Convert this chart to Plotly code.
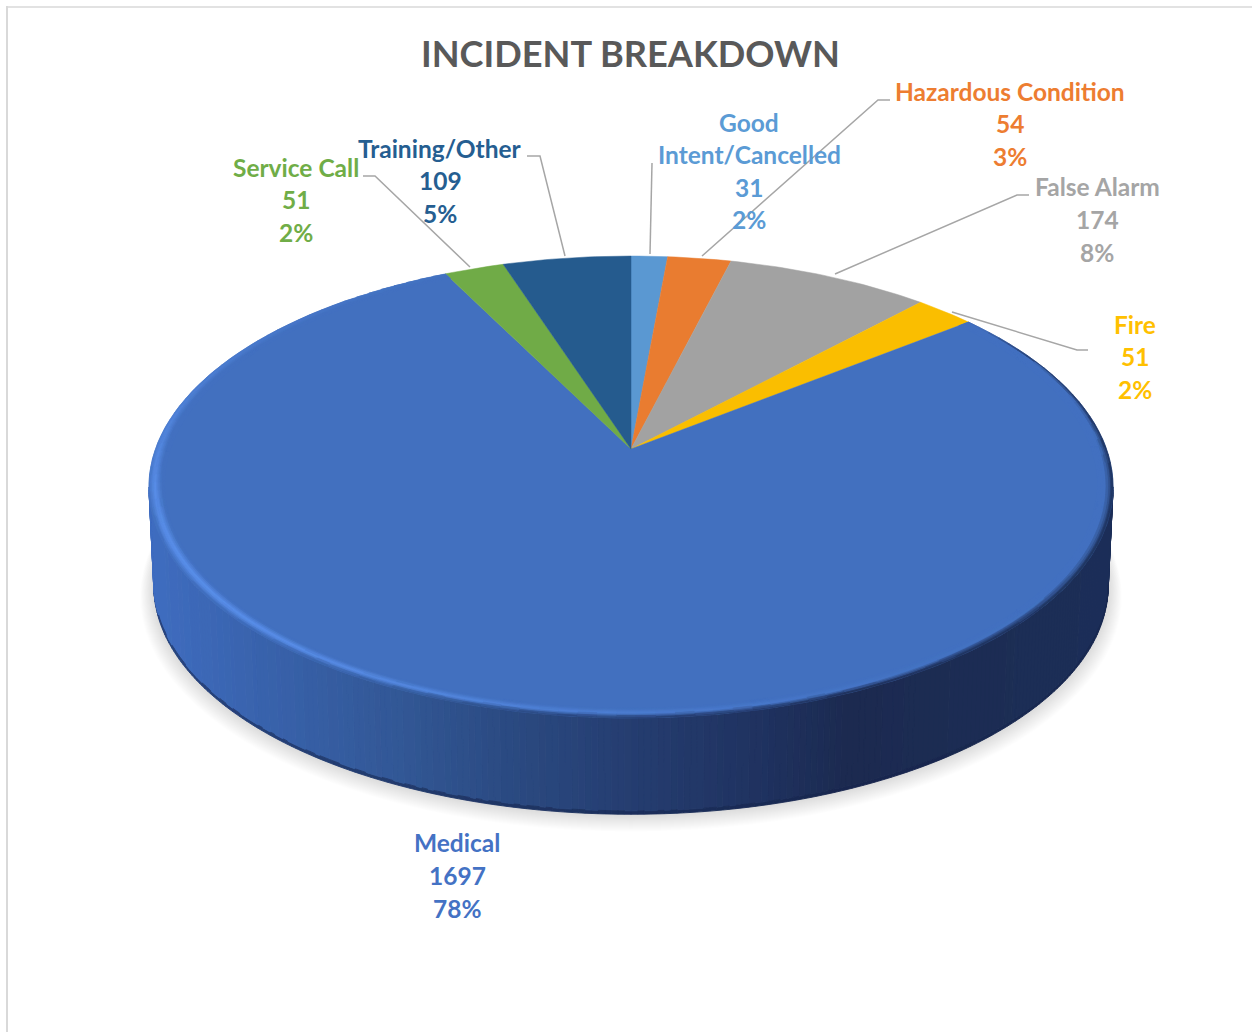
import math
from collections import defaultdict
import plotly.graph_objects as go

# ---------- data ----------
categories = ["Good Intent/Cancelled", "Hazardous Condition", "False Alarm", "Fire",
              "Medical", "Service Call", "Training/Other"]
values = [31, 54, 174, 51, 1697, 51, 109]
percent_labels = ["2%", "3%", "8%", "2%", "78%", "2%", "5%"]
label_colors = ["#5B9BD5", "#ED7D31", "#A5A5A5", "#FFC000", "#4472C4", "#70AD47", "#255E91"]
slice_colors = ["#5A98D2", "#E97C30", "#A2A2A2", "#FABE00", "#4270BF", "#70AB47", "#255B8E"]
title_text = "INCIDENT BREAKDOWN"

# ---------- layout of the tilted disc (pixel axes) ----------
W, H = 1252, 1032
CX, APEX_Y, BASE_Y = 631, 449, 548
A, B, K = 475.5, 224.7, -0.1645
BASE_SCALE = 0.99
FONT = "Lato"

# label centre x and line y's, per category
label_layout = {
    "Good Intent/Cancelled": (749, [122, 154, 187, 219]),
    "Hazardous Condition": (1010, [91, 123, 156]),
    "False Alarm": (1097, [186, 219, 252]),
    "Fire": (1135, [324, 356, 389]),
    "Medical": (457, [842, 875, 908]),
    "Service Call": (296, [167, 199, 232]),
    "Training/Other": (440, [148, 180, 213]),
}
leaders = [
    [(363, 176), (375, 176), (470, 267)],
    [(527, 156), (540, 156), (565, 256)],
    [(652, 163), (650, 254)],
    [(890, 100), (878, 100), (702, 256)],
    [(1029, 195), (1017, 195), (835, 274)],
    [(1088, 350), (1077, 350), (952, 312)],
]


def proj(r, deg, y0=APEX_Y, s=1.0):
    t = math.radians(deg)
    u, v = r * math.sin(t), -r * math.cos(t)
    den = 1 + K * v
    return CX + A * s * u / den, y0 + B * s * v / den


def hex2rgb(h):
    h = h.lstrip("#")
    return tuple(int(h[i:i + 2], 16) for i in (0, 2, 4))


def mix(c1, c2, t):
    t = max(0.0, min(1.0, t))
    return tuple(a + (b - a) * t for a, b in zip(c1, c2))


def css(c, q=2):
    return "rgb(%d,%d,%d)" % tuple(min(255, int(round(x / q) * q)) for x in c)


WALL_STOPS = [(148, "#3F6DC0"), (250, "#3963AE"), (400, "#325795"), (500, "#2B4B83"),
              (631, "#253D70"), (760, "#1F3260"), (850, "#1B2A50"), (1115, "#1C2F58")]


def wall_color(x):
    for (x0, c0), (x1, c1) in zip(WALL_STOPS, WALL_STOPS[1:]):
        if x <= x1:
            return mix(hex2rgb(c0), hex2rgb(c1), (x - x0) / (x1 - x0))
    return hex2rgb(WALL_STOPS[-1][1])


fig = go.Figure()


def add_polys(groups, lw=0.9):
    for col, polys in groups.items():
        xs, ys = [], []
        for p in polys:
            xs += [a for a, _ in p] + [p[0][0], None]
            ys += [b for _, b in p] + [p[0][1], None]
        fig.add_trace(go.Scatter(x=xs, y=ys, mode="lines", fill="toself", fillcolor=col,
                                 line=dict(color=col, width=lw), hoverinfo="skip", showlegend=False))


# soft shadow below the disc
for i in range(18):
    d = 18 - i
    pts = [proj(1, a, BASE_Y + d * 0.55, BASE_SCALE * (1 + d * 0.0016)) for a in range(0, 361, 3)]
    fig.add_trace(go.Scatter(x=[p[0] for p in pts], y=[p[1] for p in pts], mode="none", fill="toself",
                             fillcolor="rgba(0,0,0,0.0085)", hoverinfo="skip", showlegend=False))

# side wall, between the two tangent points of the ellipse
groups = defaultdict(list)
tan_a = math.degrees(math.acos(K))
N_WALL = 240
da = (360 - 2 * tan_a) / N_WALL
for i in range(N_WALL):
    a0, a1 = tan_a + i * da, tan_a + (i + 1) * da
    t0, t1 = proj(1, a0), proj(1, a1)
    b0, b1 = proj(1, a0, BASE_Y, BASE_SCALE), proj(1, a1, BASE_Y, BASE_SCALE)
    base = wall_color((t0[0] + t1[0]) / 2)
    f = 0.965
    m0 = (t0[0] + (b0[0] - t0[0]) * f, t0[1] + (b0[1] - t0[1]) * f)
    m1 = (t1[0] + (b1[0] - t1[0]) * f, t1[1] + (b1[1] - t1[1]) * f)
    groups[css(base)].append([t0, t1, m1, m0])
    groups[css(mix(base, (20, 35, 75), 0.55))].append([m0, m1, b1, b0])
add_polys(groups)

# top face
total = sum(values)
cum = 0
angle_ranges = {}
for name, val, col in zip(categories, values, slice_colors):
    a0 = cum / total * 360
    cum += val
    a1 = cum / total * 360
    angle_ranges[name] = (a0, a1)
    steps = max(2, int((a1 - a0) / 1.0))
    pts = [proj(0, 0)] + [proj(1, a0 + (a1 - a0) * j / steps) for j in range(steps + 1)]
    fig.add_trace(go.Scatter(x=[p[0] for p in pts] + [pts[0][0]], y=[p[1] for p in pts] + [pts[0][1]],
                             mode="lines", fill="toself", fillcolor=col, line=dict(color=col, width=0.5),
                             hoverinfo="skip", showlegend=False, name=name))

# bevelled rim of the large slice
m0, m1 = angle_ranges["Medical"]
base_c = hex2rgb(slice_colors[categories.index("Medical")])
hl_c = hex2rgb("#5C92EE")
RING = 0.032
LAYERS = 9
groups = defaultdict(list)
seg = 2.0
a = m0
while a < m1 - 1e-6:
    b = min(a + seg, m1)
    mid = (a + b) / 2
    h = math.exp(-((mid - 235) / 58) ** 2)
    edge = 1.0 if mid < 195 else max(0.0, 1 - (mid - 195) / 65)
    extent = 0.5 * min(1.0, max(0.12, (mid - 50) / 45))
    wc = wall_color(proj(1, mid)[0])
    center = 0.45 if mid < 255 else max(0.15, 0.45 - (mid - 255) / 80)
    for j in range(LAYERS):
        r_out = 1 - RING * j / LAYERS
        r_in = 1 - RING * (j + 1) / LAYERS
        rho = (j + 0.5) / LAYERS
        c = mix(base_c, hl_c, h * max(0.0, 1 - abs(rho - center) / 0.42))
        if extent > 0:
            c = mix(c, wc, edge * max(0.0, 1 - rho / extent))
        p = [proj(r_out, a), proj(r_out, b), proj(r_in, b), proj(r_in, a)]
        groups[css(c)].append(p)
    a = b
add_polys(groups, lw=0.7)

# leader lines
lx, ly = [], []
for path in leaders:
    lx += [p[0] for p in path] + [None]
    ly += [p[1] for p in path] + [None]
fig.add_trace(go.Scatter(x=lx, y=ly, mode="lines", line=dict(color="#A6A6A6", width=1.5),
                         hoverinfo="skip", showlegend=False))

# data labels
annotations = []
def label(x, y, text, color, size):
    annotations.append(dict(x=x, y=y, xref="x", yref="y", text=text, showarrow=False, xanchor="center",
                            yanchor="middle", font=dict(family=FONT, size=size, color=color, weight="bold")))

for name, val, pct, col in zip(categories, values, percent_labels, label_colors):
    x, ys = label_layout[name]
    parts = name.split(" ", 1) if name.startswith("Good") else [name]
    lines = parts + [str(val), pct]
    for y, line in zip(ys, lines):
        label(x, y, line, col, 24.5)

label(630.5, 53, title_text, "#595959", 36.2)

shapes = [
    dict(type="line", x0=7, x1=7, y0=6, y1=H, line=dict(color="#D9D9D9", width=2), xref="x", yref="y"),
    dict(type="line", x0=6, x1=W, y0=7, y1=7, line=dict(color="#D9D9D9", width=1.5), xref="x", yref="y"),
]

fig.update_layout(
    width=W, height=H, margin=dict(l=0, r=0, t=0, b=0), autosize=False,
    paper_bgcolor="white", plot_bgcolor="white", showlegend=False,
    xaxis=dict(range=[0, W], visible=False, fixedrange=True),
    yaxis=dict(range=[H, 0], visible=False, fixedrange=True),
    annotations=annotations, shapes=shapes,
)
fig.write_html("out.html", config={"displayModeBar": False},
               post_script="document.body.style.margin='0';document.body.style.overflow='hidden';")
